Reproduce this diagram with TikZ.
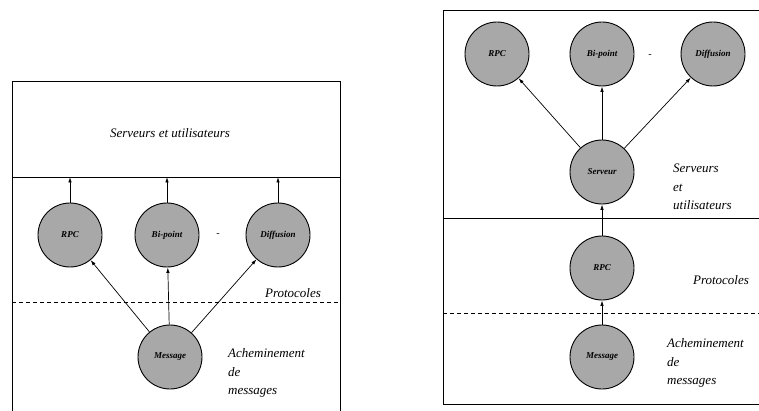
\documentclass[tikz,border=0pt]{standalone}
\usepackage{fontspec}
\setmainfont{Liberation Serif}
\usetikzlibrary{arrows.meta}
\tikzset{
  proc/.style={circle, draw, line width=0.9pt, fill=black!34, minimum size=64pt,
    inner sep=0pt, font=\fontsize{9}{10}\selectfont\bfseries\itshape},
  lbl/.style={font=\fontsize{13}{18.5}\selectfont\itshape, align=left, inner sep=0pt},
  flow/.style={-{Latex[length=5.5pt,width=3.5pt]}, line width=0.7pt},
  frame/.style={line width=0.9pt},
  layer/.style={line width=0.8pt, dash pattern=on 4pt off 3pt},
  ellip/.style={font=\fontsize{10}{12}\selectfont, inner sep=0pt}
}
\begin{document}
\begin{tikzpicture}[x=1pt,y=-1pt]
\useasboundingbox (0,0) rectangle (759,411);

% ---- first organisation: protocols sit between routing and users ----
\draw[frame] (12,411) -- (12,81) -- (340,81) -- (340,411);
\draw[frame] (12,177) -- (340,177);
\draw[layer] (12,302) -- (340,302);

\node[proc] (lrpc)  at (70,235)  {RPC};
\node[proc] (lbi)   at (167,235) {Bi-point};
\node[proc] (ldiff) at (278,235) {Diffusion};
\node[proc] (lmsg)  at (170,357) {Message};
\node[ellip] (ldots) at (218,235) {-};

\coordinate (lup1) at (70,177);
\coordinate (lup2) at (167,177);
\coordinate (lup3) at (278,177);

\draw[flow] (lrpc) -- (lup1);
\draw[flow] (lbi) -- (lup2);
\draw[flow] (ldiff) -- (lup3);
\draw[flow] (lmsg) -- (lrpc);
\draw[flow] (lmsg) -- (lbi);
\draw[flow] (lmsg) -- (ldiff);

\node[lbl] (lusers) at (170,133) {Serveurs et utilisateurs};
\node[lbl] (lproto) at (293,293) {Protocoles};
\node[lbl, anchor=west] (lroute) at (228,373) {Acheminement\\de\\messages};

% ---- second organisation: protocols used by a server ----
\draw[frame] (759,10) -- (443,10) -- (443,404) -- (759,404);
\draw[frame] (443,218) -- (759,218);
\draw[layer] (443,313) -- (759,313);

\node[proc] (rrpc)  at (497,54)  {RPC};
\node[proc] (rbi)   at (602,54)  {Bi-point};
\node[proc] (rdiff) at (713,54)  {Diffusion};
\node[proc] (rserv) at (602,172) {Serveur};
\node[proc] (rrpcb) at (602,268) {RPC};
\node[proc] (rmsg)  at (602,357) {Message};
\node[ellip] (rdots) at (650,56) {-};

\draw[flow] (rserv) -- (rrpc);
\draw[flow] (rserv) -- (rbi);
\draw[flow] (rserv) -- (rdiff);
\draw[flow] (rrpcb) -- (rserv);
\draw[flow] (rmsg) -- (rrpcb);

\node[lbl, anchor=west] (rusers) at (673,187) {Serveurs\\et\\utilisateurs};
\node[lbl] (rproto) at (721,280) {Protocoles};
\node[lbl, anchor=west] (rroute) at (667,363) {Acheminement\\de\\messages};
\end{tikzpicture}
\end{document}
